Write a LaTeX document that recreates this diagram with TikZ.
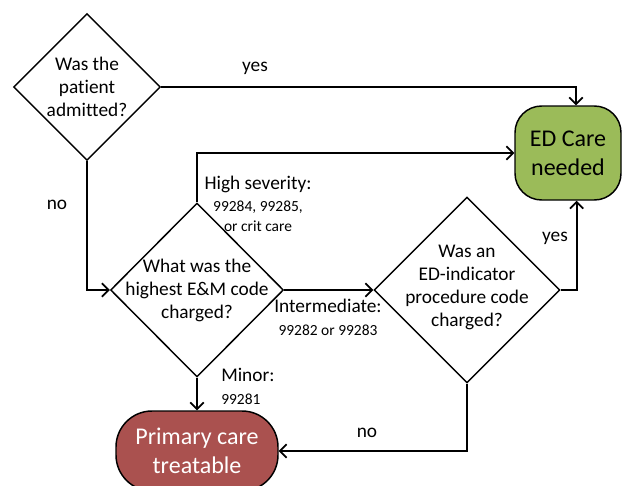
\documentclass[tikz,border=0pt]{standalone}
\usepackage{fontspec}
\setmainfont[Ligatures=CommonOff]{Carlito}
\usetikzlibrary{shapes.geometric,arrows.meta,positioning}
\definecolor{edgreen}{HTML}{9BBB59}
\definecolor{pcred}{HTML}{AA514F}
\newcommand{\bigsize}{\fontsize{14.5}{17.25}\selectfont}
\newcommand{\codesize}{\fontsize{11.6}{12.75}\selectfont}
\tikzset{
	decision/.style={diamond, draw, line width=1.1pt, inner sep=0pt, aspect=1},
	qtext/.style={align=center, font=\bigsize, inner sep=0pt},
	endbox/.style={draw, line width=1.1pt, align=center, inner sep=0pt,
		font=\fontsize{18}{21.75}\selectfont},
	flow/.style={line width=1.5pt, -{Straight Barb[length=5pt,width=10pt,line width=1.3pt]}},
	lbl/.style={font=\bigsize, inner sep=0pt}
}
\begin{document}
\begin{tikzpicture}[x=0.75pt, y=-0.75pt]
	\useasboundingbox (0, 0) rectangle (624, 485);
	% questions
	\node[decision, minimum width=110.25pt, minimum height=110.25pt,
		label={[qtext]center:{Was the\\patient\\admitted?}}] (q1) at (87, 87) {};
	\node[decision, minimum width=129.75pt, minimum height=130.5pt,
		label={[qtext]center:{What was the\\highest E\&M code\\charged?}}] (q2) at (197, 290) {};
	\node[decision, minimum width=139.5pt, minimum height=139.5pt,
		label={[qtext, yshift=2pt]center:{Was an\\ED-indicator\\procedure code\\charged?}}] (q3) at (467, 290) {};
	% outcomes
	\node[endbox, fill=edgreen, minimum width=79.5pt, minimum height=70.5pt, rounded corners=20pt] (ed) at (568, 153) {ED Care\\needed};
	\node[endbox, fill=pcred, text=white, minimum width=121.5pt, minimum height=60pt, rounded corners=27pt] (pc) at (197, 451) {Primary care\\treatable};
	\coordinate (edtop) at ([xshift=6pt]ed.north);
	\coordinate (edbot) at ([xshift=6.5pt]ed.south);
	% connectors
	\draw[flow] (q1.east) -- (q1.east -| edtop) -- (edtop);
	\draw[flow] (q1.south) |- (q2.west);
	\draw[flow] (q2.north) |- (ed.west);
	\draw[flow] (q2.east) -- (q3.west);
	\draw[flow] (q2.south) -- (pc.north);
	\draw[flow] (q3.east) -| (edbot);
	\draw[flow] (q3.south) |- (pc.east);
	% labels
	\node[lbl] (yes1) at (255, 68) {yes};
	\node[lbl] (no1) at (57, 205) {no};
	\node[lbl, align=center] (high) at (258, 204) {High severity:\\[-1pt]{\codesize 99284, 99285,}\\[-2.5pt]{\codesize or crit care}};
	\node[lbl, align=center] (mid) at (328, 317) {Intermediate:\\{\codesize 99282 or 99283}};
	\node[lbl, align=left, anchor=west] (minor) at (221, 386) {Minor:\\{\codesize 99281}};
	\node[lbl] (yes2) at (555, 238) {yes};
	\node[lbl] (no2) at (367, 433) {no};
\end{tikzpicture}
\end{document}
